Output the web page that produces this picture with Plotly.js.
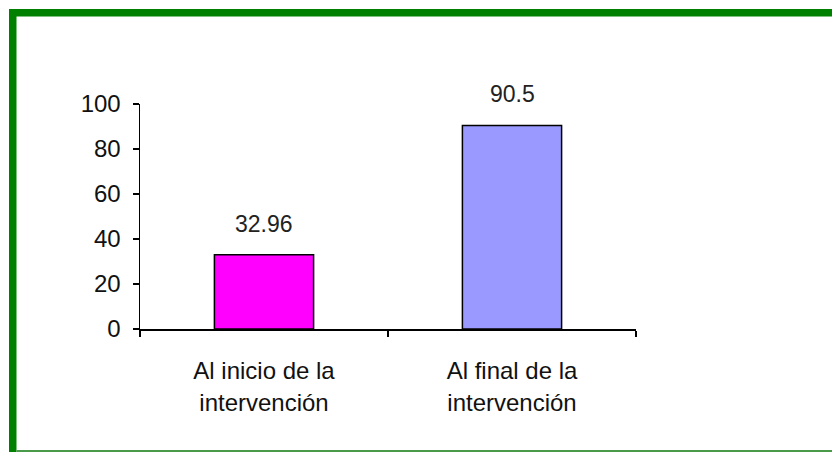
<!DOCTYPE html>
<html>
<head>
<meta charset="utf-8">
<script src="https://cdn.plot.ly/plotly-3.0.1.min.js"></script>
<style>
html,body{margin:0;padding:0;background:#fff;}
#chart{width:832px;height:452px;}
</style>
</head>
<body>
<div id="chart"></div>
<script>
const categories = ["Al inicio de la<br>intervención", "Al final de la<br>intervención"];
const values = [32.96, 90.5];
const valueLabels = ["32.96", "90.5"];
const barColors = ["#FF00FF", "#9999FF"];
const yTicks = [0, 20, 40, 60, 80, 100];

const L = 140, R = 196, T = 104, B = 123, W = 832, H = 452;
const pw = W - L - R, ph = H - T - B;
const px = x => (x - L) / pw;
const py = y => (H - B - y) / ph;

const trace = {
  type: "bar",
  x: categories,
  y: values,
  width: 0.4,
  marker: {color: barColors, line: {color: "#000", width: 1.5}},
  hoverinfo: "none"
};

const annotations = categories.map((c, i) => ({
  x: c, y: values[i], xref: "x", yref: "y",
  text: valueLabels[i], showarrow: false,
  yanchor: "middle", yshift: 31,
  font: {family: "Liberation Sans, Arial, sans-serif", size: 23, color: "#222"}
}));

const green = "#008000";
const shapes = [
  {type: "rect", xref: "paper", yref: "paper", x0: px(9), x1: px(832), y0: py(9), y1: py(16.5), fillcolor: green, line: {width: 0}, layer: "above"},
  {type: "rect", xref: "paper", yref: "paper", x0: px(9), x1: px(16.5), y0: py(9), y1: py(452), fillcolor: green, line: {width: 0}, layer: "above"},
  {type: "rect", xref: "paper", yref: "paper", x0: px(16.5), x1: px(832), y0: py(450), y1: py(452), fillcolor: "#4a9a4a", line: {width: 0}, layer: "above"}
];

const layout = {
  width: W, height: H,
  margin: {l: L, r: R, t: T, b: B, pad: 0},
  paper_bgcolor: "#fff", plot_bgcolor: "#fff",
  showlegend: false,
  font: {family: "Liberation Sans, Arial, sans-serif", size: 23, color: "#000"},
  xaxis: {
    type: "category",
    showline: true, linecolor: "#000", linewidth: 1.5,
    ticks: "outside", tickson: "boundaries", ticklen: 6, tickcolor: "#000", tickwidth: 1.5,
    showgrid: false, zeroline: false,
    ticklabelstandoff: 20,
    tickfont: {size: 24, color: "#111"}
  },
  yaxis: {
    range: [0, 100],
    tickvals: yTicks, ticktext: yTicks.map(String),
    showline: true, linecolor: "#000", linewidth: 1.5,
    ticks: "outside", ticklen: 6, tickcolor: "#000", tickwidth: 1.5,
    showgrid: false, zeroline: false,
    ticklabelstandoff: 7,
    tickfont: {size: 24, color: "#111"}
  },
  annotations: annotations,
  shapes: shapes
};

Plotly.newPlot("chart", [trace], layout, {staticPlot: true, displayModeBar: false});
</script>
</body>
</html>
